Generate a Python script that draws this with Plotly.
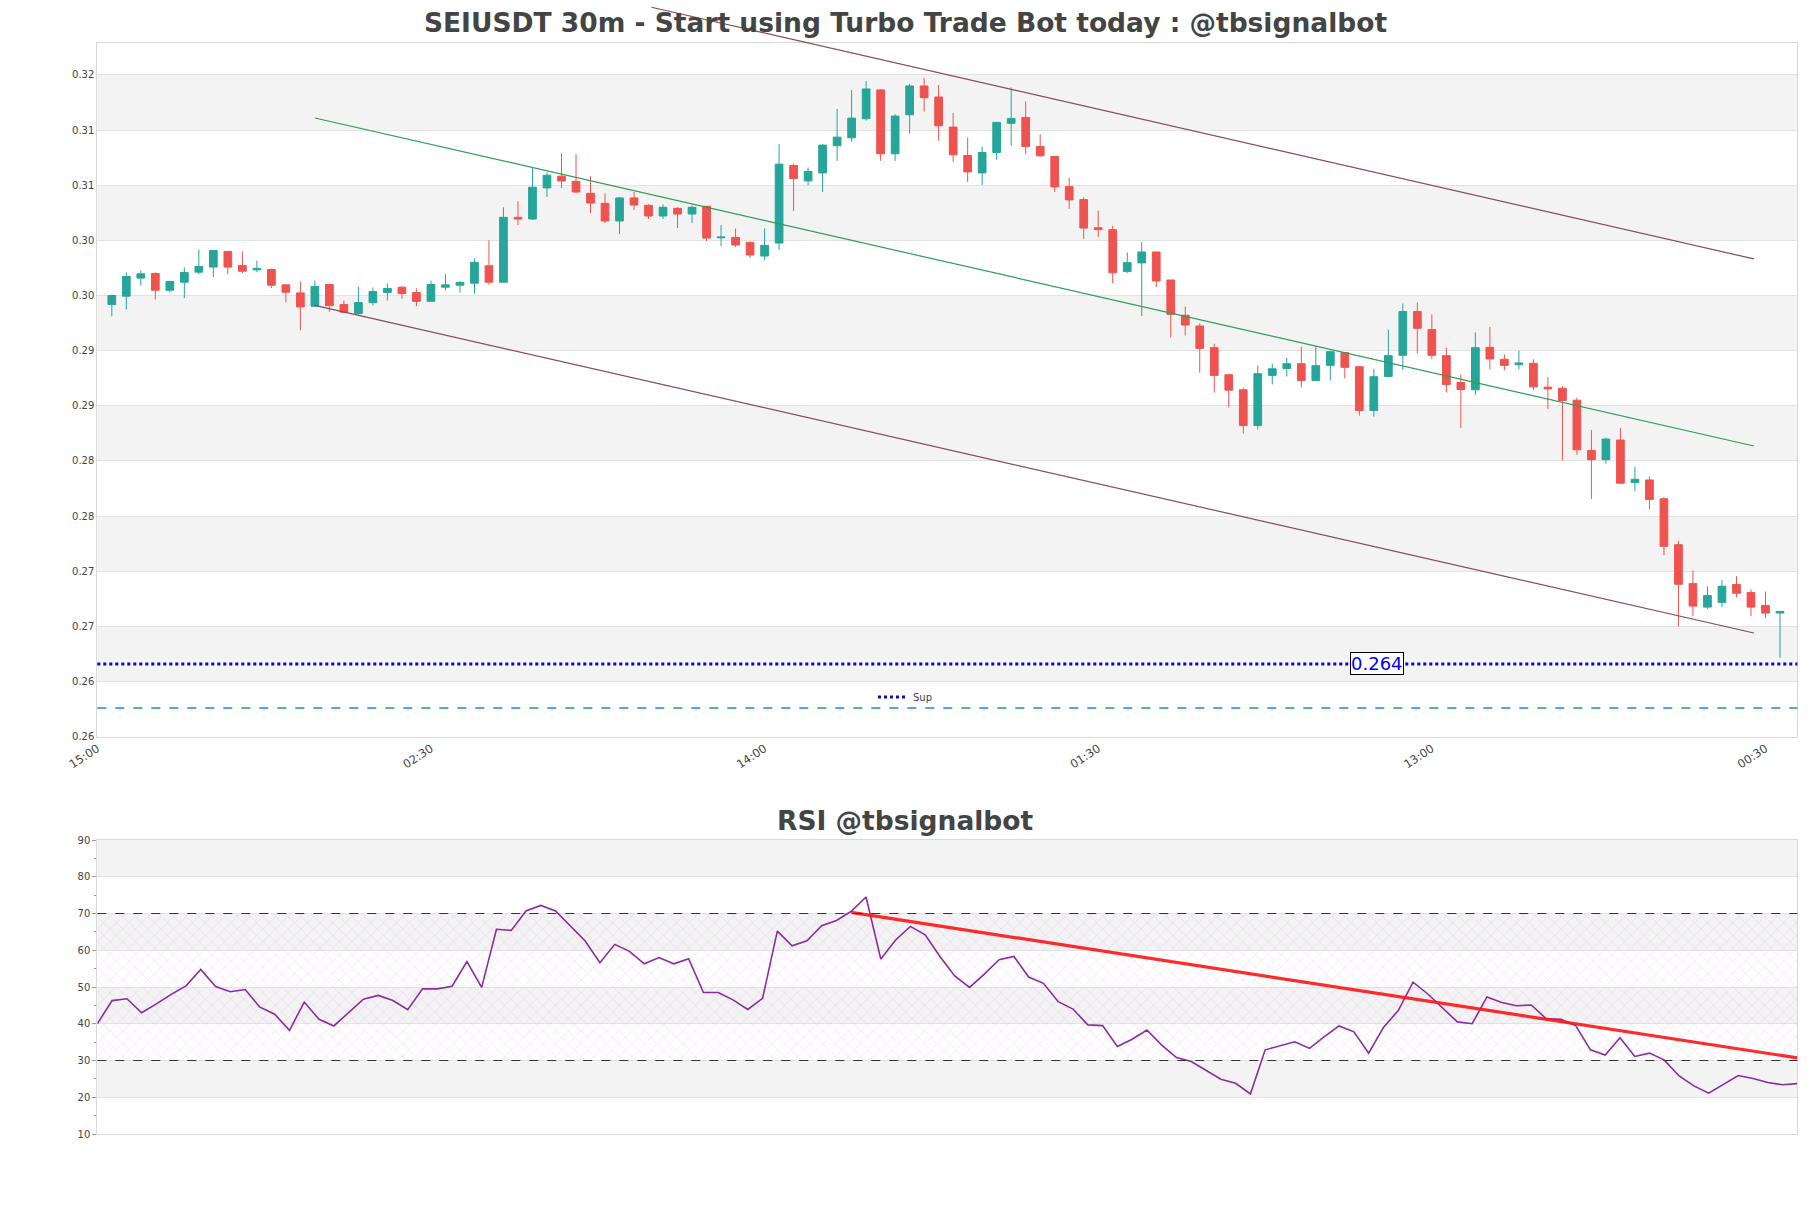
import pandas as pd
import plotly.graph_objects as go

# ---------------- data ----------------
title_main = "SEIUSDT 30m - Start using Turbo Trade Bot today : @tbsignalbot"
title_rsi = "RSI @tbsignalbot"

first_bar = "2024-06-10 15:30"
bar_count = 116
times = pd.date_range(first_bar, periods=bar_count, freq="30min")

open_ = [0.29668, 0.29744, 0.29908, 0.2995, 0.29798, 0.29871, 0.29962, 0.30008, 0.3015, 0.30023,
         0.29983, 0.29986, 0.29847, 0.29774, 0.29653, 0.2985, 0.29668, 0.29586, 0.29686, 0.29777,
         0.29826, 0.29777, 0.29698, 0.29826, 0.29844, 0.29862, 0.3002, 0.29871, 0.30459, 0.30444,
         0.30726, 0.30832, 0.30786, 0.30677, 0.30586, 0.30426, 0.30635, 0.30568, 0.30471, 0.30541,
         0.30489, 0.30559, 0.30274, 0.30277, 0.30232, 0.30108, 0.30226, 0.30929, 0.30789, 0.30862,
         0.31108, 0.3118, 0.31353, 0.31614, 0.31035, 0.31389, 0.3165, 0.3155, 0.31277, 0.3102,
         0.30862, 0.31047, 0.31311, 0.31365, 0.31102, 0.31011, 0.30738, 0.3062, 0.30365, 0.30347,
         0.29967, 0.30046, 0.30145, 0.29891, 0.29571, 0.29474, 0.29277, 0.29032, 0.28895, 0.28571,
         0.29026, 0.29089, 0.29132, 0.2898, 0.29117, 0.29232, 0.29105, 0.28708, 0.29017, 0.29208,
         0.29605, 0.29441, 0.29205, 0.28962, 0.28895, 0.2928, 0.29172, 0.29123, 0.29136, 0.28919,
         0.2891, 0.28801, 0.28346, 0.28262, 0.2844, 0.28054, 0.28078, 0.27907, 0.27491, 0.27138,
         0.26925, 0.26968, 0.2713, 0.27057, 0.2694, 0.26871]
high_ = [0.29759, 0.29959, 0.29977, 0.29959, 0.29886, 0.30005, 0.30168, 0.30159, 0.3015, 0.3015,
         0.30068, 0.29995, 0.29847, 0.29877, 0.29886, 0.2985, 0.29705, 0.29832, 0.29823, 0.29859,
         0.29832, 0.29814, 0.29886, 0.29947, 0.2988, 0.30086, 0.3025, 0.3055, 0.30605, 0.30905,
         0.30868, 0.31041, 0.31032, 0.30832, 0.30677, 0.30644, 0.30689, 0.30577, 0.30577, 0.3055,
         0.30568, 0.30559, 0.30389, 0.30359, 0.30241, 0.30359, 0.31123, 0.30947, 0.3091, 0.31123,
         0.31441, 0.31614, 0.31695, 0.31623, 0.31395, 0.31668, 0.31723, 0.31659, 0.31405, 0.31183,
         0.31102, 0.3132, 0.31638, 0.31511, 0.31211, 0.31011, 0.3082, 0.30638, 0.3052, 0.30383,
         0.30141, 0.30236, 0.30145, 0.29891, 0.2965, 0.29498, 0.29314, 0.29041, 0.28914, 0.29114,
         0.29132, 0.29186, 0.29286, 0.29286, 0.2925, 0.29232, 0.29105, 0.29086, 0.29441, 0.29677,
         0.29686, 0.2958, 0.29277, 0.29035, 0.29416, 0.29464, 0.29217, 0.2925, 0.29172, 0.29009,
         0.28928, 0.28825, 0.2853, 0.28461, 0.28548, 0.28196, 0.28108, 0.27922, 0.27527, 0.27256,
         0.27114, 0.27169, 0.27205, 0.27084, 0.27066, 0.26889]
low_ = [0.29562, 0.29623, 0.29841, 0.29714, 0.2978, 0.29726, 0.29944, 0.29917, 0.29944, 0.29953,
        0.29962, 0.29817, 0.29689, 0.29435, 0.2965, 0.29602, 0.29592, 0.29577, 0.29659, 0.29705,
        0.29723, 0.29653, 0.29698, 0.29795, 0.29777, 0.29765, 0.29847, 0.29871, 0.30389, 0.30435,
        0.30644, 0.30726, 0.3068, 0.30498, 0.30408, 0.30308, 0.30526, 0.30444, 0.30444, 0.30362,
        0.30408, 0.30244, 0.30198, 0.30189, 0.3009, 0.30071, 0.30162, 0.30517, 0.3075, 0.30689,
        0.30971, 0.31144, 0.31335, 0.30971, 0.30971, 0.31217, 0.31417, 0.31153, 0.30962, 0.3078,
        0.30753, 0.3098, 0.31108, 0.31035, 0.31008, 0.30689, 0.30535, 0.30262, 0.3028, 0.29862,
        0.29955, 0.29565, 0.29825, 0.2937, 0.29386, 0.2905, 0.28871, 0.28735, 0.28499, 0.28535,
        0.28944, 0.29017, 0.28917, 0.2898, 0.2898, 0.28998, 0.28662, 0.28653, 0.29008, 0.29074,
        0.29226, 0.29171, 0.28871, 0.28549, 0.28849, 0.29081, 0.29072, 0.29081, 0.28895, 0.28723,
        0.28256, 0.28307, 0.27904, 0.28226, 0.28048, 0.27973, 0.2781, 0.27395, 0.2675, 0.26843,
        0.26907, 0.26925, 0.27015, 0.26843, 0.26825, 0.26467]
close_ = [0.2975, 0.29923, 0.29947, 0.29798, 0.29877, 0.29959, 0.30014, 0.30159, 0.30008, 0.29971,
          0.29995, 0.29844, 0.2978, 0.29647, 0.29832, 0.29659, 0.29599, 0.29686, 0.29786, 0.29814,
          0.29768, 0.29698, 0.2985, 0.29847, 0.29868, 0.3005, 0.29871, 0.30459, 0.30444, 0.30732,
          0.30841, 0.30789, 0.30689, 0.30589, 0.30426, 0.30635, 0.30571, 0.30471, 0.3055, 0.30489,
          0.3055, 0.30271, 0.3028, 0.30208, 0.30117, 0.30205, 0.30941, 0.30811, 0.30874, 0.31114,
          0.31186, 0.31359, 0.31623, 0.31035, 0.31377, 0.3165, 0.31544, 0.31289, 0.31026, 0.30871,
          0.31047, 0.3132, 0.31356, 0.31102, 0.31017, 0.30735, 0.30617, 0.30362, 0.30347, 0.29956,
          0.30048, 0.30145, 0.29882, 0.2958, 0.29483, 0.29271, 0.29026, 0.28892, 0.28571, 0.29041,
          0.29086, 0.29132, 0.2898, 0.29114, 0.29241, 0.29099, 0.28708, 0.29014, 0.29205, 0.29605,
          0.29453, 0.29208, 0.28944, 0.28898, 0.29277, 0.29175, 0.29117, 0.29139, 0.28922, 0.28904,
          0.28798, 0.28352, 0.28262, 0.28449, 0.28048, 0.28084, 0.27901, 0.27476, 0.27132, 0.26934,
          0.2703, 0.27114, 0.27051, 0.26925, 0.26871, 0.26886]

rsi = [40.0, 46.3, 46.8, 43.0, 45.4, 48.0, 50.3, 54.8, 50.1, 48.7,
       49.3, 44.5, 42.6, 38.2, 45.9, 41.2, 39.4, 43.0, 46.7, 47.7,
       46.3, 43.8, 49.5, 49.5, 50.2, 56.9, 49.9, 65.7, 65.4, 70.7,
       72.2, 70.7, 66.7, 62.5, 56.6, 61.6, 59.7, 56.3, 58.0, 56.3,
       57.7, 48.5, 48.5, 46.5, 43.9, 46.9, 65.2, 61.2, 62.6, 66.7,
       68.1, 70.6, 74.5, 57.6, 62.8, 66.5, 64.2, 58.3, 53.0, 49.9,
       53.5, 57.4, 58.3, 52.7, 51.0, 46.0, 44.0, 39.7, 39.5, 33.8,
       35.8, 38.3, 34.2, 30.8, 29.7, 27.2, 24.9, 23.8, 20.9, 32.9,
       34.0, 35.1, 33.3, 36.5, 39.4, 37.8, 32.0, 39.0, 43.6, 51.3,
       48.1, 44.2, 40.5, 40.0, 47.3, 45.8, 44.9, 45.1, 41.4, 41.2,
       39.5, 32.9, 31.5, 36.2, 31.1, 32.0, 30.1, 25.8, 23.1, 21.1,
       23.6, 25.9, 25.1, 24.0, 23.4, 23.7]

x_tick_times = ["2024-06-10 15:00", "2024-06-11 02:30", "2024-06-11 14:00",
                "2024-06-12 01:30", "2024-06-12 13:00", "2024-06-13 00:30"]
main_x_range = ["2024-06-10 15:00", "2024-06-13 01:36"]

y_tick_vals = [0.2575, 0.2625, 0.2675, 0.2725, 0.2775, 0.2825, 0.2875,
               0.2925, 0.2975, 0.3025, 0.3075, 0.3125, 0.3175]
y_tick_text = ["0.26", "0.26", "0.27", "0.27", "0.28", "0.28", "0.29",
               "0.29", "0.30", "0.30", "0.31", "0.31", "0.32"]
main_y_range = [0.2575, 0.32037]

support_level = 0.2641
support_name = "Sup"
support_label = "0.264"
support_label_time = "2024-06-12 11:06"
lower_level = 0.2601

upper_line_t = ["2024-06-11 10:06", "2024-06-13 00:06"]
upper_line_p = [0.32364, 0.30082]
mid_line_t = ["2024-06-10 22:30", "2024-06-13 00:06"]
mid_line_p = [0.3136, 0.28386]
low_line_t = ["2024-06-10 22:30", "2024-06-13 00:06"]
low_line_p = [0.2966, 0.2669]

rsi_trend_t = ["2024-06-11 17:00", "2024-06-13 01:00"]
rsi_trend_v = [70.3, 30.7]
rsi_range = [10, 90]
rsi_bands = [(20, 30), (40, 50), (60, 70), (80, 90)]
rsi_zone = [30, 70]

# ---------------- layout geometry ----------------
W, H = 1811, 1208
x_dom = [97.3 / W, 1797.4 / W]
main_dom = [1 - 736.7 / H, 1 - 43.3 / H]
rsi_dom = [1 - 1134 / H, 1 - 840 / H]
ext_dom = [main_dom[0], 1.0]
ext_top = main_y_range[0] + (main_y_range[1] - main_y_range[0]) * (ext_dom[1] - ext_dom[0]) / (main_dom[1] - main_dom[0])

FONT = "DejaVu Sans"
TXT = "#444444"
GRID = "#e3e3e3"
BAND = "#f3f3f3"
BORDER = "#d9d9d9"

fig = go.Figure()

fig.add_trace(go.Candlestick(
    x=times, open=open_, high=high_, low=low_, close=close_,
    increasing=dict(line=dict(color="#26a69a", width=1), fillcolor="#26a69a"),
    decreasing=dict(line=dict(color="#ef5350", width=1), fillcolor="#ef5350"),
    whiskerwidth=0, showlegend=False, xaxis="x", yaxis="y", hoverinfo="skip"))

# channel lines in an extended overlay subplot so they can run above the plot box
for tt, pp, col in [(upper_line_t, upper_line_p, "#8a4a5c"),
                    (mid_line_t, mid_line_p, "#2e9e55"),
                    (low_line_t, low_line_p, "#8a4a5c")]:
    fig.add_trace(go.Scatter(x=tt, y=pp, mode="lines", line=dict(color=col, width=1.2),
                             showlegend=False, hoverinfo="skip", xaxis="x3", yaxis="y3"))

# RSI hatch zone
fig.add_trace(go.Scatter(
    x=[times[0], times[-1], times[-1], times[0], times[0]],
    y=[rsi_zone[0], rsi_zone[0], rsi_zone[1], rsi_zone[1], rsi_zone[0]],
    mode="lines", fill="toself", line=dict(width=0), fillcolor="rgba(0,0,0,0)",
    fillpattern=dict(shape="x", fgcolor="rgba(200,150,225,0.55)", bgcolor="rgba(0,0,0,0)",
                     size=9, solidity=0.08),
    showlegend=False, hoverinfo="skip", xaxis="x2", yaxis="y2"))

fig.add_trace(go.Scatter(x=times, y=rsi, mode="lines", line=dict(color="#8e2aa0", width=1.6),
                         showlegend=False, hoverinfo="skip", xaxis="x2", yaxis="y2"))
fig.add_trace(go.Scatter(x=rsi_trend_t, y=rsi_trend_v, mode="lines",
                         line=dict(color="rgba(255,20,20,0.9)", width=3.2),
                         showlegend=False, hoverinfo="skip", xaxis="x2", yaxis="y2"))

shapes = []
for i in range(1, len(y_tick_vals) - 1, 2):
    shapes.append(dict(type="rect", xref="x domain", yref="y", x0=0, x1=1,
                       y0=y_tick_vals[i], y1=y_tick_vals[i + 1], fillcolor=BAND,
                       line=dict(width=0), layer="below"))
for b0, b1 in rsi_bands:
    shapes.append(dict(type="rect", xref="x2 domain", yref="y2", x0=0, x1=1, y0=b0, y1=b1,
                       fillcolor=BAND, line=dict(width=0), layer="below"))
for lv in rsi_zone:
    shapes.append(dict(type="line", xref="x2 domain", yref="y2", x0=0, x1=1, y0=lv, y1=lv,
                       line=dict(color="#333333", width=1.1, dash="dash")))
shapes.append(dict(type="line", xref="x domain", yref="y", x0=0, x1=1, y0=lower_level, y1=lower_level,
                   line=dict(color="#1c8ad6", width=1.3, dash="dash")))
shapes.append(dict(type="line", xref="x domain", yref="y", x0=0, x1=1, y0=support_level, y1=support_level,
                   line=dict(color="#0c0cb4", width=3, dash="dot"), name=support_name, showlegend=True))

axis_common = dict(showgrid=True, gridcolor=GRID, gridwidth=1, showline=True, linecolor=BORDER,
                   linewidth=1, mirror=True, zeroline=False, automargin=False,
                   tickfont=dict(family=FONT, size=10, color=TXT))
x_common = {k: v for k, v in axis_common.items() if k not in ("showgrid", "tickfont")}

fig.update_layout(
    width=W, height=H, autosize=False, template="none",
    margin=dict(l=0, r=0, t=0, b=0, pad=0),
    paper_bgcolor="white", plot_bgcolor="rgba(0,0,0,0)",
    boxgap=0.24,
    title=dict(text=title_main, x=0.5, xanchor="center", xref="paper", yref="container",
               y=1 - 23 / H, yanchor="middle",
               font=dict(family=FONT, size=26.5, color=TXT, weight="bold")),
    xaxis=dict(domain=x_dom, anchor="y", type="date", range=main_x_range, tickvals=x_tick_times,
               tickformat="%H:%M", tickangle=-33, showgrid=False, rangeslider=dict(visible=False),
               tickfont=dict(family=FONT, size=11.5, color=TXT), **x_common),
    yaxis=dict(domain=main_dom, anchor="x", range=main_y_range, tickvals=y_tick_vals,
               ticktext=y_tick_text, ticks="", **axis_common),
    xaxis2=dict(domain=x_dom, anchor="y2", type="date", range=[times[0], times[-1]],
                showticklabels=False, showgrid=False, **x_common),
    yaxis2=dict(domain=rsi_dom, anchor="x2", range=rsi_range, dtick=10, tick0=10,
                ticks="outside", ticklen=4, tickcolor="#999999",
                minor=dict(dtick=5, ticks="outside", ticklen=2, tickcolor="#999999", showgrid=False),
                **axis_common),
    xaxis3=dict(domain=x_dom, anchor="y3", type="date", range=main_x_range, visible=False),
    yaxis3=dict(domain=ext_dom, anchor="x3", range=[main_y_range[0], ext_top], visible=False),
    shapes=shapes,
    showlegend=True,
    legend=dict(orientation="h", x=0.5, xanchor="center", y=1 - 697 / H, yanchor="middle",
                bgcolor="rgba(0,0,0,0)", font=dict(family=FONT, size=10, color=TXT), itemwidth=30),
    annotations=[
        dict(text=title_rsi, x=0.5, xref="paper", y=1 - 820 / H, yref="paper", xanchor="center",
             yanchor="middle", showarrow=False,
             font=dict(family=FONT, size=26.5, color=TXT, weight="bold")),
        dict(text=support_label, x=support_label_time, y=support_level, xref="x", yref="y",
             showarrow=False, font=dict(family=FONT, size=18, color="#0000ff"),
             bgcolor="white", bordercolor="black", borderwidth=1, borderpad=0),
    ],
)

fig.write_html("out.html")
